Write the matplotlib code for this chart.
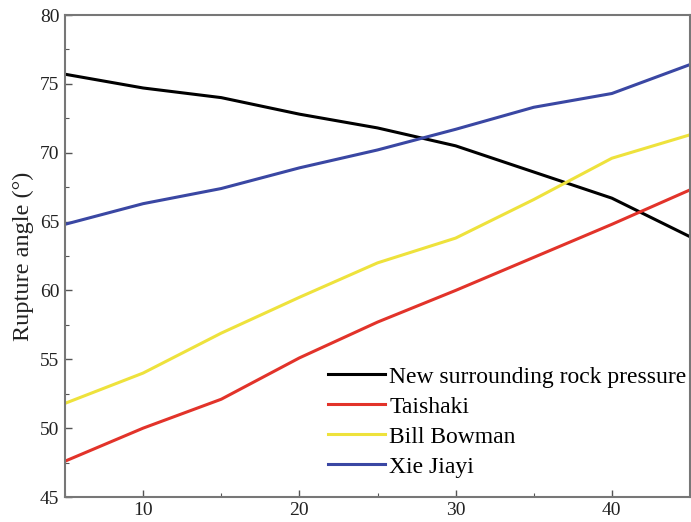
import matplotlib
matplotlib.use("Agg")
import matplotlib.pyplot as plt
from matplotlib.ticker import MultipleLocator

# --- Data ---
x_vals = [5, 10, 15, 20, 25, 30, 35, 40, 45]
new_pressure = [75.7, 74.7, 74.0, 72.8, 71.8, 70.5, 68.6, 66.7, 63.9]
taishaki = [47.6, 50.0, 52.1, 55.1, 57.7, 60.0, 62.4, 64.8, 67.3]
bill_bowman = [51.8, 54.0, 56.9, 59.5, 62.0, 63.8, 66.6, 69.6, 71.3]
xie_jiayi = [64.8, 66.3, 67.4, 68.9, 70.2, 71.7, 73.3, 74.3, 76.4]

series = [
    ("New surrounding rock pressure", new_pressure, "#000000"),
    ("Taishaki", taishaki, "#e2332a"),
    ("Bill Bowman", bill_bowman, "#eee23c"),
    ("Xie Jiayi", xie_jiayi, "#3a47a3"),
]

plt.rcParams["font.family"] = ["Liberation Serif", "DejaVu Serif"]

fig = plt.figure(figsize=(6.91, 5.22), dpi=100)
ax = fig.add_axes([65 / 691, 25 / 522, 625 / 691, 482 / 522])

for label, vals, color in series:
    ax.plot(x_vals, vals, color=color, linewidth=2.2, label=label)

ax.set_xlim(5, 45)
ax.set_ylim(45, 80)
ax.xaxis.set_major_locator(MultipleLocator(10))
ax.xaxis.set_minor_locator(MultipleLocator(5))
ax.yaxis.set_major_locator(MultipleLocator(5))
ax.yaxis.set_minor_locator(MultipleLocator(2.5))
ax.tick_params(which="both", direction="in", colors="#555555", labelcolor="#222222")
ax.tick_params(which="major", length=5, width=1, labelsize=14)
ax.tick_params(which="minor", length=3, width=0.8)
ax.tick_params(axis="y", pad=4)

for spine in ax.spines.values():
    spine.set_color("#777777")
    spine.set_linewidth(1.5)

ax.set_ylabel("Rupture angle (°)", fontsize=17.5, color="#222222", labelpad=4)

ax.legend(loc="upper left", bbox_to_anchor=(328 / 691, 1 - 366 / 522),
          bbox_transform=fig.transFigure, frameon=False, fontsize=17,
          handlelength=2.4, handletextpad=0.2, labelspacing=0.36,
          borderpad=0, borderaxespad=0)

fig.savefig("out.png", dpi=100)
